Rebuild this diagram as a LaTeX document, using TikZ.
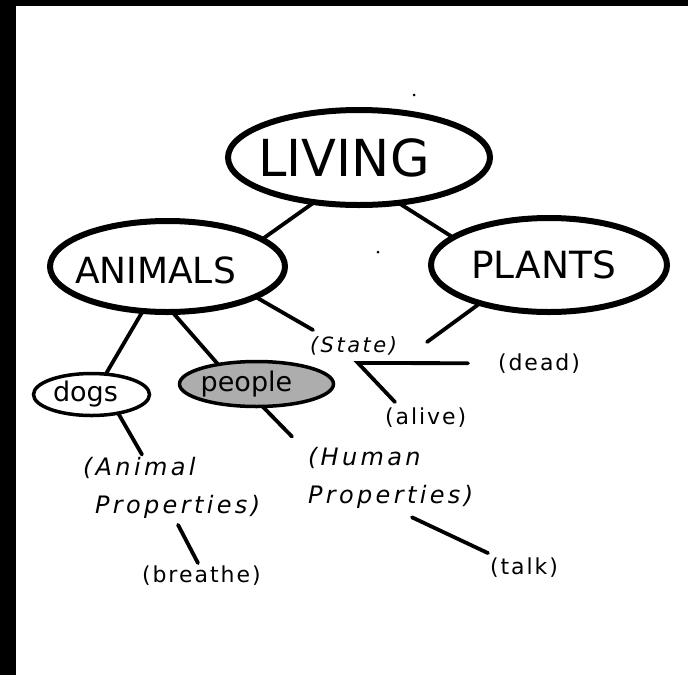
\documentclass[tikz,border=0pt]{standalone}
\usepackage{fontspec}
\setmainfont{DejaVu Sans}
\newfontfamily\capsfont{DejaVu Sans}
\newfontfamily\notefont{DejaVu Sans}[LetterSpace=9]
\newfontfamily\statefont{DejaVu Sans}[LetterSpace=12]
\newfontfamily\propfont{DejaVu Sans}[LetterSpace=14]
\usetikzlibrary{shapes.geometric}
\tikzset{
  bigbubble/.style={ellipse, draw=black, line width=6pt, inner sep=0pt, outer sep=0pt, fill=white},
  smallbubble/.style={ellipse, draw=black, line width=3.5pt, inner sep=0pt, outer sep=0pt},
  link/.style={line width=3.8pt, line cap=round},
  note/.style={inner sep=0pt, outer sep=0pt, anchor=base west, font=\notefont\fontsize{22}{26}\selectfont},
  prop/.style={inner sep=0pt, outer sep=0pt, anchor=west, align=left, font=\propfont\itshape\fontsize{24}{38}\selectfont},
}
\begin{document}
\begin{tikzpicture}[x=1pt,y=-1pt]
\useasboundingbox (0,0) rectangle (688,675);
\fill[white] (0,0) rectangle (688,675);
\fill[black] (0,0) rectangle (688,6);
\fill[black] (0,0) rectangle (16,675);
% specks
\fill[black] (414,95) circle (1.5pt);
\fill[black] (378,252) circle (1.5pt);

% main concept ellipses
\node[bigbubble, minimum width=262pt, minimum height=95pt, font=\capsfont\fontsize{51}{51}\selectfont]
  (living) at (359,157.5) {\hspace*{-30pt}LIVING};
\node[bigbubble, minimum width=235pt, minimum height=91pt, font=\capsfont\fontsize{36}{36}\selectfont]
  (animals) at (167.5,266.5) {\hspace*{-24pt}\raisebox{-3.5pt}[26pt][0pt]{ANIMALS}};
\node[bigbubble, minimum width=236pt, minimum height=94pt, font=\capsfont\fontsize{37.5}{37.5}\selectfont]
  (plants) at (549,265) {\hspace*{-11pt}PLANTS};
\node[smallbubble, fill=white, minimum width=116pt, minimum height=42pt, font=\capsfont\fontsize{27}{27}\selectfont]
  (dogs) at (91.5,394.5) {\hspace*{-12pt}dogs};
\node[smallbubble, fill=black!32, minimum width=154pt, minimum height=45pt, font=\capsfont\fontsize{27}{27}\selectfont]
  (people) at (256.5,384) {\hspace*{-20pt}people};

% text labels
\node[note, font=\statefont\itshape\fontsize{21}{26}\selectfont] (state) at (310,352.2) {(State)};
\node[note] (dead) at (498,370.1) {(dead)};
\node[note] (alive) at (385,424.1) {(alive)};
\node[prop] (aprop) at (83,488.2) {(Animal\\\hspace*{12pt}Properties)};
\node[prop] (hprop) at (308,478.2) {(Human\\Properties)};
\node[note] (breathe) at (142,582.1) {(breathe)};
\node[note] (talk) at (490,574.1) {(talk)};

\coordinate (J) at ([shift={(48,10.8)}]state.base west);

% connectors
\draw[link] (living.225.3) -- (animals.16.1);
\draw[link] (living.311.6) -- (plants.164.5);
\draw[link] (animals.241.9) -- (dogs.55.3);
\draw[link] (animals.276.1) -- (people.153.2);
\draw[link] (animals.341.6) -- ([shift={(3,-22.2)}]state.base west);
\draw[link] (plants.209.6) -- ([shift={(117,-10.2)}]state.base west);
\draw[link] ([xshift=-30pt]dead.west) -- (J) -- ([shift={(10,-22)}]alive.base west);
\draw[link] (dogs.325.9) -- ([shift={(59,-3)}]aprop.north west);
\draw[link] (people.285.2) -- ([shift={(-16,-11)}]hprop.north west);
\draw[link] ([shift={(95,6)}]aprop.south west) -- ([shift={(56,-19)}]breathe.base west);
\draw[link] ([shift={(104,8.5)}]hprop.south west) -- ([shift={(-2,-21)}]talk.base west);
\end{tikzpicture}
\end{document}
